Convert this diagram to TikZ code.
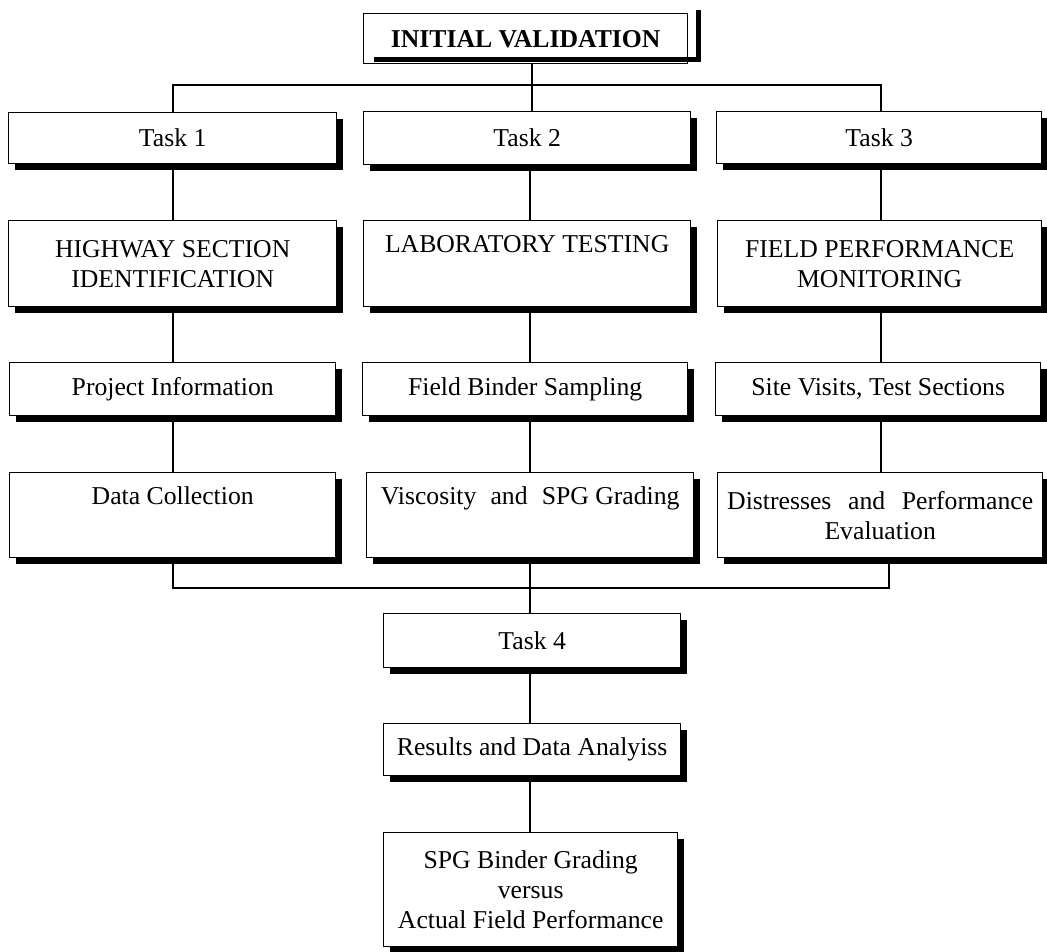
\documentclass[tikz,border=0pt]{standalone}
\usepackage{fontspec}
\setmainfont{Liberation Serif}
\usetikzlibrary{shadows}
\begin{document}
\begin{tikzpicture}[x=1pt,y=-1pt,
  box/.style={draw, line width=1.4pt, fill=white, inner sep=0pt, anchor=north west, align=center,
    font=\fontsize{25.7}{30}\selectfont,
    drop shadow={shadow xshift=6pt, shadow yshift=-6pt, fill=black, opacity=1}},
  plainbox/.style={draw, line width=1.4pt, fill=white, inner sep=0pt, anchor=north west, align=center,
    font=\fontsize{25.7}{30}\selectfont},
  conn/.style={line width=1.3pt},
  shadowline/.style={line width=4.5pt}]
\useasboundingbox (0,0) rectangle (1047,951);

% top
\node[plainbox, minimum width=324pt, minimum height=50pt] (iv) at (363,13) {\bfseries INITIAL VALIDATION};
\draw[shadowline] ([xshift=11pt,yshift=5pt]iv.south west) -- ([xshift=10pt,yshift=5pt]iv.south east) -- ([xshift=10pt,yshift=3pt]iv.north east);

% tasks
\node[box, minimum width=328pt, minimum height=51pt] (t1) at (8,112) {Task 1};
\node[box, minimum width=327pt, minimum height=53pt] (t2) at (363,111) {Task 2};
\node[box, minimum width=325pt, minimum height=52pt] (t3) at (716,111) {Task 3};

\node[box, minimum width=328pt, minimum height=86pt] (h1) at (8,220) {HIGHWAY SECTION\\IDENTIFICATION};
\node[box, minimum width=327pt, minimum height=86pt] (h2) at (363,220) {LABORATORY TESTING\\ \strut};
\node[box, minimum width=324pt, minimum height=86pt] (h3) at (717,220) {FIELD PERFORMANCE\\MONITORING};

\node[box, minimum width=326pt, minimum height=53pt] (p1) at (9,362) {Project Information};
\node[box, minimum width=325pt, minimum height=53pt] (p2) at (362,362) {Field Binder Sampling};
\node[box, minimum width=325pt, minimum height=53pt] (p3) at (715,362) {Site Visits, Test Sections};

\node[box, minimum width=326pt, minimum height=85pt] (d1) at (9,472) {Data Collection\\ \strut};
\node[box, minimum width=327pt, minimum height=85pt] (d2) at (366,472) {Viscosity\ \hspace{0.3em}and\ \hspace{0.3em}SPG Grading\\ \strut};
\node[box, minimum width=325pt, minimum height=85pt] (d3) at (717,472) {Distresses\ \hspace{0.4em}and\ \hspace{0.4em}Performance\\Evaluation};

\node[box, minimum width=297pt, minimum height=54pt] (t4) at (383,613) {Task 4};
\node[box, minimum width=297pt, minimum height=52pt] (r4) at (383,723) {Results and Data Analyiss};
\node[box, minimum width=294pt, minimum height=114pt] (s4) at (383,832) {SPG Binder Grading\\versus\\Actual Field Performance};

% column positions
\coordinate (c1) at (173,0);
\coordinate (c2) at (530,0);
\coordinate (c3) at (881,0);
\coordinate (c3b) at (889,0);

% connectors
\coordinate (bar1) at (532,85);
\coordinate (bar2) at (530,588);
\draw[conn] (iv.south -| bar1) -- (bar1);
\draw[conn] (t1.north -| c1) |- (bar1) -| (t3.north -| c3);
\draw[conn] (bar1) -- (t2.north -| bar1);

\draw[conn] (t1.south -| c1) -- (h1.north -| c1);
\draw[conn] (t2.south -| c2) -- (h2.north -| c2);
\draw[conn] (t3.south -| c3) -- (h3.north -| c3);
\draw[conn] (h1.south -| c1) -- (p1.north -| c1);
\draw[conn] (h2.south -| c2) -- (p2.north -| c2);
\draw[conn] (h3.south -| c3) -- (p3.north -| c3);
\draw[conn] (p1.south -| c1) -- (d1.north -| c1);
\draw[conn] (p2.south -| c2) -- (d2.north -| c2);
\draw[conn] (p3.south -| c3) -- (d3.north -| c3);

\draw[conn] (d1.south -| c1) |- (bar2) -| (d3.south -| c3b);
\draw[conn] (d2.south -| bar2) -- (bar2) -- (t4.north -| bar2);
\draw[conn] (t4.south -| bar2) -- (r4.north -| bar2);
\draw[conn] (r4.south -| bar2) -- (s4.north -| bar2);
\end{tikzpicture}
\end{document}
